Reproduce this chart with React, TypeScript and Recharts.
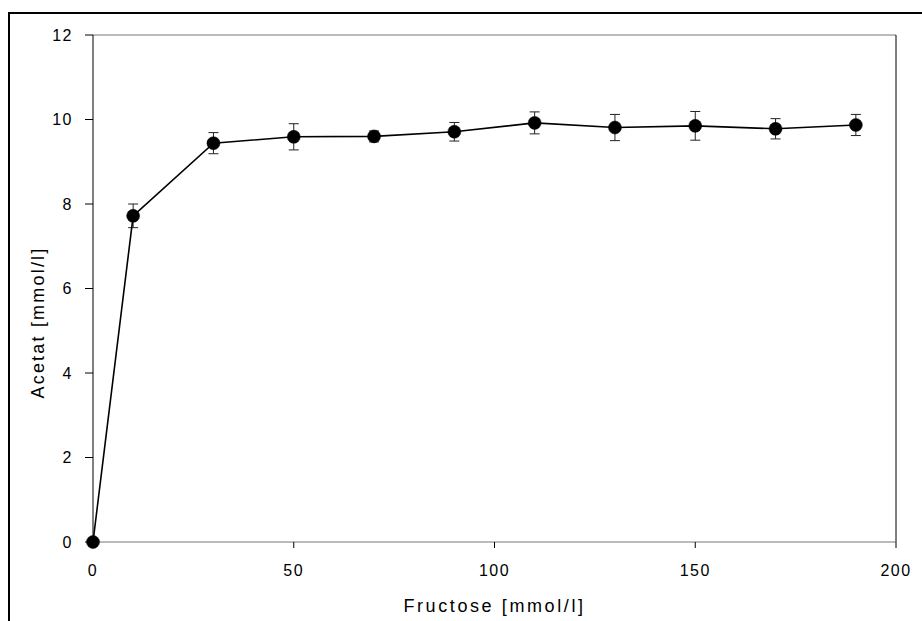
import React from 'react';
import { ComposedChart, Line, XAxis, YAxis, ErrorBar, ReferenceLine, Label } from 'recharts';

// Acetate formed vs. fructose supplied (mean ± SD)
const fructose = [0, 10, 30, 50, 70, 90, 110, 130, 150, 170, 190];
const acetat = [0, 7.72, 9.44, 9.59, 9.6, 9.71, 9.92, 9.81, 9.85, 9.78, 9.87];
const acetatSd = [0, 0.28, 0.25, 0.31, 0.13, 0.22, 0.26, 0.31, 0.34, 0.24, 0.25];
const xTicks = [0, 50, 100, 150, 200];
const yTicks = [0, 2, 4, 6, 8, 10, 12];
const xTitle = 'Fructose [mmol/l]';
const yTitle = 'Acetat [mmol/l]';

const data = fructose.map((f, i) => ({ fructose: f, acetat: acetat[i], sd: acetatSd[i] }));

const FONT = '"Liberation Sans", Arial, sans-serif';
const tickStyle = { fontFamily: FONT, fontSize: 16, fill: '#000', letterSpacing: 1.5 };

const XTitle = (props: any) => {
  const vb = props.viewBox || {};
  return (
    <text
      x={vb.x + vb.width / 2}
      y={vb.y + 64}
      textAnchor="middle"
      dominantBaseline="central"
      fontFamily={FONT}
      fontSize={18}
      letterSpacing={2.6}
      fill="#000"
    >
      {xTitle}
    </text>
  );
};

const YTitle = (props: any) => {
  const vb = props.viewBox || {};
  const cx = vb.x + 5;
  const cy = vb.y + vb.height / 2 + 34;
  return (
    <text
      x={cx}
      y={cy}
      transform={`rotate(-90, ${cx}, ${cy})`}
      textAnchor="middle"
      dominantBaseline="central"
      fontFamily={FONT}
      fontSize={18}
      letterSpacing={2.2}
      fill="#000"
    >
      {yTitle}
    </text>
  );
};

export default function App() {
  return (
    <div style={{ position: 'absolute', left: 0, top: 0, width: 922, height: 621, overflow: 'hidden', background: '#fff' }}>
      <div
        style={{
          position: 'absolute',
          left: 8,
          top: 12,
          width: 1200,
          height: 1200,
          borderLeft: '2px solid #000',
          borderTop: '2px solid #000',
        }}
      />
      <div style={{ position: 'absolute', left: 0, top: 0 }}>
        <ComposedChart
          width={922}
          height={621}
          data={data}
          margin={{ top: 35, right: 26, left: 33, bottom: 0 }}
        >
          <XAxis
            dataKey="fructose"
            type="number"
            domain={[0, 200]}
            ticks={xTicks}
            interval={0}
            tickSize={6}
            tickMargin={17}
            height={79}
            stroke="#777"
            tickLine={{ stroke: '#000' }}
            tick={tickStyle}
          >
            <Label content={<XTitle />} />
          </XAxis>
          <YAxis
            type="number"
            domain={[0, 12]}
            ticks={yTicks}
            interval={0}
            width={60}
            tickSize={8}
            tickMargin={12}
            stroke="#000"
            tick={tickStyle}
          >
            <Label content={<YTitle />} />
          </YAxis>
          <ReferenceLine y={12} stroke="#777" strokeWidth={1} />
          <ReferenceLine x={200} stroke="#000" strokeWidth={1} />
          <Line
            dataKey="acetat"
            type="linear"
            stroke="#000"
            strokeWidth={1.6}
            dot={{ r: 6.5, fill: '#000', stroke: '#000', strokeWidth: 0.5 }}
            activeDot={false}
            isAnimationActive={false}
          >
            <ErrorBar dataKey="sd" width={5} stroke="#222" strokeWidth={1} direction="y" />
          </Line>
        </ComposedChart>
      </div>
    </div>
  );
}
